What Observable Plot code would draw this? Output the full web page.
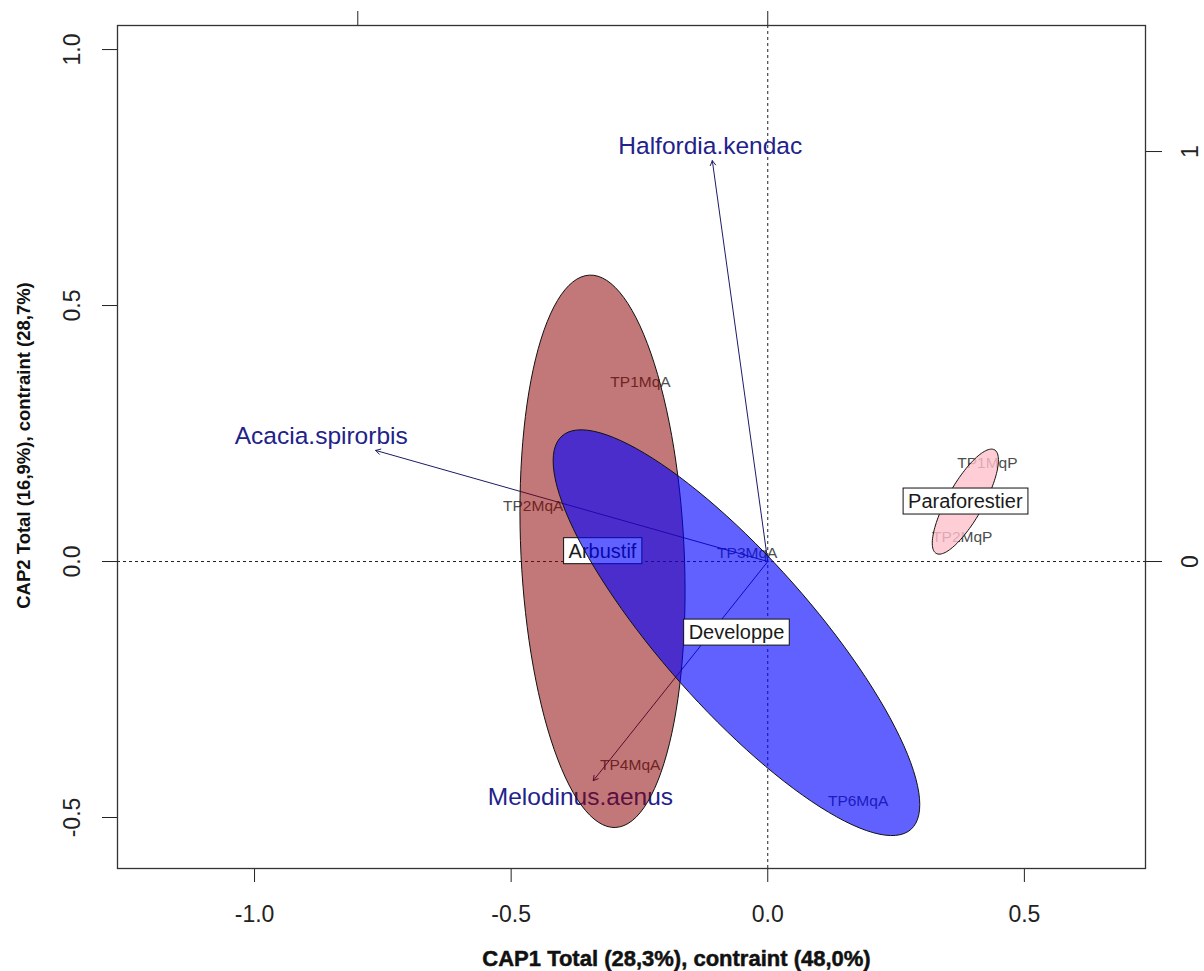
<!DOCTYPE html>
<html><head><meta charset="utf-8">
<script src="https://cdn.jsdelivr.net/npm/d3@7"></script>
<script src="https://cdn.jsdelivr.net/npm/@observablehq/plot@0.6"></script>
<style>body{margin:0;background:#fff} #chart svg{display:block}</style>
</head><body><div id="chart"></div>
<script>
// ---- axis ticks ----
const xTicks = [-1.0, -0.5, 0.0, 0.5];
const yTicks = [-0.5, 0.0, 0.5, 1.0];
const rightTicks = [0, 1];        // secondary (species) scale, right
const topTicks = [-1, 0];         // secondary (species) scale, top
const secondaryRatioX = 0.7988;   // secondary unit expressed in primary units
const secondaryRatioY = 0.8008;

const xTitle = "CAP1 Total (28,3%), contraint (48,0%)";
const yTitle = "CAP2 Total (16,9%), contraint (28,7%)";

// ---- sites ----
const siteNames = ["TP1MqA","TP2MqA","TP3MqA","TP4MqA","TP6MqA","TP1MqP","TP2MqP"];
const siteX = [-0.248,-0.457,-0.040,-0.268,0.176,0.428,0.379];
const siteY = [0.350,0.109,0.016,-0.398,-0.467,0.193,0.047];

// ---- species vectors ----
const speciesNames = ["Halfordia.kendac","Acacia.spirorbis","Melodinus.aenus"];
const arrowX = [-0.108,-0.764,-0.340];
const arrowY = [0.783,0.217,-0.428];
const labelX = [-0.112,-0.870,-0.365];
const labelY = [0.811,0.244,-0.461];

// ---- group ellipses ----
const groupNames = ["Arbustif","Developpe","Paraforestier"];
const groupCx = [-0.322,-0.061,0.385];
const groupCy = [0.020,-0.139,0.117];
const groupA = [0.540,0.513,0.116];
const groupB = [0.159,0.1465,0.035];
const groupAngle = [-87.3,-48.5,60.7];
const groupFill = ["rgba(139,0,0,0.53)","rgba(0,0,255,0.62)","rgba(255,192,203,0.8)"];

function ellipsePoints(i) {
  const th = groupAngle[i] * Math.PI / 180, n = 120, pts = [];
  for (let k = 0; k < n; k++) {
    const t = 2 * Math.PI * k / n;
    const u = groupA[i] * Math.cos(t), v = groupB[i] * Math.sin(t);
    pts.push({x: groupCx[i] + u * Math.cos(th) - v * Math.sin(th),
              y: groupCy[i] + u * Math.sin(th) + v * Math.cos(th)});
  }
  return pts;
}

const sIdx = siteNames.map((_, i) => i);
const pIdx = speciesNames.map((_, i) => i);
const font = "'Liberation Sans', Arial, sans-serif";

const groupMarks = [];
groupNames.forEach((g, i) => {
  groupMarks.push(Plot.line(ellipsePoints(i), {x: "x", y: "y", curve: "linear-closed",
    fill: groupFill[i], stroke: "#111", strokeWidth: 1}));
  groupMarks.push(Plot.text([i], {x: d => groupCx[d], y: d => groupCy[d], text: d => groupNames[d],
    fontSize: 20, fill: "#1a1a1a"}));
});

const chart = Plot.plot({
  width: 1204, height: 971,
  marginLeft: 117, marginRight: 59, marginTop: 25, marginBottom: 103,
  x: {domain: [-1.267, 0.736]},
  y: {domain: [-0.5996, 1.047]},
  style: {fontFamily: font, background: "white", color: "#222"},
  marks: [
    Plot.ruleX([0], {stroke: "#222", strokeDasharray: "3,3", strokeWidth: 1}),
    Plot.ruleY([0], {stroke: "#222", strokeDasharray: "3,3", strokeWidth: 1}),
    Plot.text(sIdx, {x: i => siteX[i], y: i => siteY[i], text: i => siteNames[i], fontSize: 15.5, fill: "#4d4d4d"}),
    Plot.arrow(pIdx, {x1: () => 0, y1: () => 0, x2: i => arrowX[i], y2: i => arrowY[i],
      stroke: "#1c1c66", strokeWidth: 1, headLength: 8}),
    Plot.text(pIdx, {x: i => labelX[i], y: i => labelY[i], text: i => speciesNames[i], fontSize: 24.5, fill: "#22228a"}),
    ...groupMarks,
    Plot.axisX(xTicks, {anchor: "bottom", tickSize: 14, tickFormat: () => "", label: null}),
    Plot.axisY(yTicks, {anchor: "left", tickSize: 15, tickFormat: () => "", label: null}),
    Plot.axisX(topTicks.map(d => d * secondaryRatioX), {anchor: "top", tickSize: 15, tickFormat: () => "", label: null}),
    Plot.axisY(rightTicks.map(d => d * secondaryRatioY), {anchor: "right", tickSize: 16, tickFormat: () => "", label: null}),
    Plot.text(xTicks, {x: d => d, frameAnchor: "bottom", dy: 46, lineAnchor: "middle", textAnchor: "middle",
      text: d => d.toFixed(1), fontSize: 23, fill: "#222"}),
    Plot.text(yTicks, {y: d => d, frameAnchor: "left", dx: -45, rotate: -90, lineAnchor: "middle", textAnchor: "middle",
      text: d => d.toFixed(1), fontSize: 23, fill: "#222"}),
    Plot.text(rightTicks, {y: d => d * secondaryRatioY, frameAnchor: "right", dx: 45, rotate: -90, lineAnchor: "middle", textAnchor: "middle",
      text: d => String(d), fontSize: 23, fill: "#222"}),
    Plot.text([xTitle], {frameAnchor: "bottom", dx: 45, dy: 90, lineAnchor: "middle", textAnchor: "middle",
      fontSize: 22, fontWeight: "bold", fill: "#111", stroke: "#111", strokeWidth: 0.5}),
    Plot.text([yTitle], {frameAnchor: "left", dx: -93, dy: -1.5, rotate: -90, lineAnchor: "middle", textAnchor: "middle",
      fontSize: 18.5, fontWeight: "bold", fill: "#111"}),
    Plot.frame({stroke: "#333", strokeWidth: 1.3})
  ]
});

document.getElementById("chart").append(chart);
// white boxes behind group labels (as in ordiellipse label=TRUE)
Array.from(chart.querySelectorAll("text"))
  .filter(t => groupNames.includes(t.textContent))
  .forEach(t => {
    const bb = t.getBBox();
    const r = document.createElementNS("http://www.w3.org/2000/svg", "rect");
    r.setAttribute("x", bb.x - 5);
    r.setAttribute("y", bb.y - 2);
    r.setAttribute("width", bb.width + 10);
    r.setAttribute("height", bb.height + 4);
    r.setAttribute("fill", "white");
    r.setAttribute("stroke", "#111");
    r.setAttribute("stroke-width", 1);
    if (t.getAttribute("transform")) r.setAttribute("transform", t.getAttribute("transform"));
    t.parentNode.insertBefore(r, t);
  });
</script>
</body></html>
